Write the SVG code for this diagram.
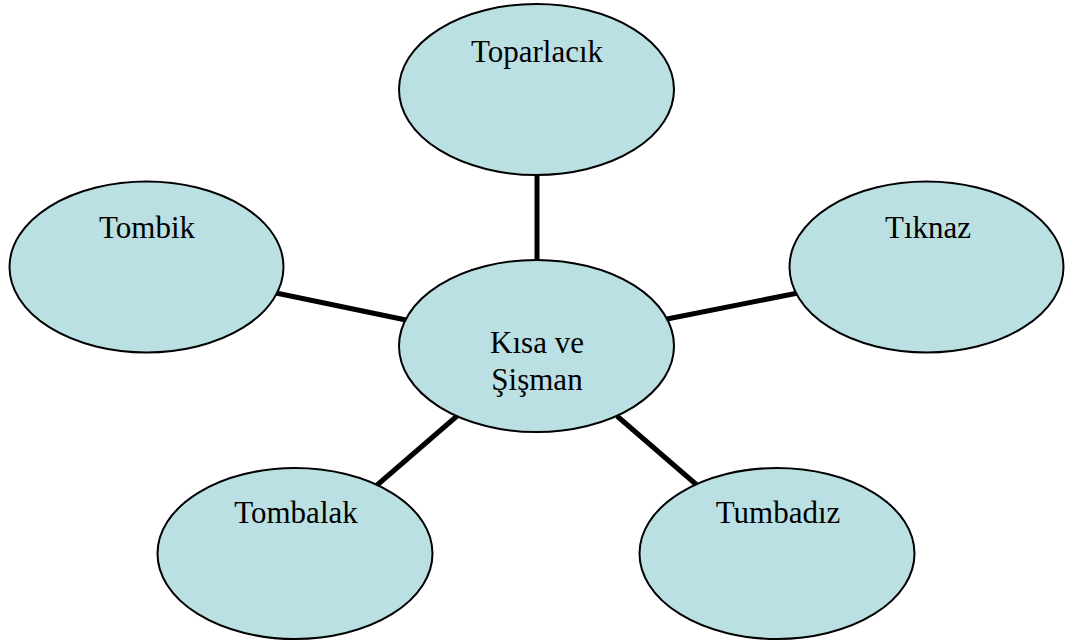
<svg xmlns="http://www.w3.org/2000/svg" width="1071" height="641" viewBox="0 0 1071 641">
<style>
.n{fill:#bbe0e3;stroke:#000;stroke-width:2}
.t{font-family:"Liberation Serif","Times New Roman",serif;font-size:31px;fill:#000;text-anchor:middle}
.c line{stroke:#000;stroke-width:5}
</style>
<rect width="1071" height="641" fill="#fff"/>
<g class="c" id="connectors">
<line x1="537" y1="174" x2="537" y2="262"/>
<line x1="276" y1="293" x2="406" y2="320"/>
<line x1="667" y1="319" x2="798" y2="293"/>
<line x1="376" y1="486" x2="457" y2="416"/>
<line x1="617" y1="416" x2="698" y2="486"/>
</g>
<g id="center"><ellipse class="n" cx="536.5" cy="346" rx="137.5" ry="86"/><text class="t" x="537" y="353">Kısa ve</text><text class="t" x="537" y="390">Şişman</text></g>
<g id="toparlacik"><ellipse class="n" cx="536.5" cy="89.5" rx="137.5" ry="85.5"/><text class="t" x="537" y="62">Toparlacık</text></g>
<g id="tombik"><ellipse class="n" cx="146.5" cy="267" rx="137" ry="85.5"/><text class="t" x="147" y="238">Tombik</text></g>
<g id="tiknaz"><ellipse class="n" cx="926.5" cy="267" rx="137" ry="85.5"/><text class="t" x="928" y="238">Tıknaz</text></g>
<g id="tombalak"><ellipse class="n" cx="295" cy="553.5" rx="137.5" ry="85.5"/><text class="t" x="296" y="523">Tombalak</text></g>
<g id="tumbadiz"><ellipse class="n" cx="777" cy="553.5" rx="137.5" ry="85.5"/><text class="t" x="778" y="523">Tumbadız</text></g>
</svg>
